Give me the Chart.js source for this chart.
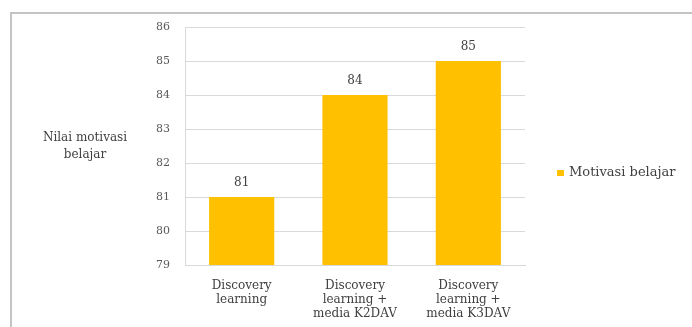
<!DOCTYPE html>
<html>
<head>
<meta charset="utf-8">
<script src="https://cdn.jsdelivr.net/npm/chart.js@4.4.0/dist/chart.umd.min.js"></script>
<style>
  html, body { margin: 0; padding: 0; background: #fff; overflow: hidden; width: 692px; height: 327px; }
  #frame {
    position: absolute; left: 10px; top: 12px; width: 682px; height: 315px;
    box-sizing: border-box;
    border-top: 2px solid #c4c4c4; border-left: 2px solid #c4c4c4;
  }
  #myChart { position: absolute; left: 0; top: 0; }
</style>
</head>
<body>
<div id="frame"></div>
<canvas id="myChart" width="692" height="327"></canvas>
<script>
// data
var categories = [
  ["Discovery", "learning"],
  ["Discovery", "learning +", "media K2DAV"],
  ["Discovery", "learning +", "media K3DAV"]
];
var seriesName = "Motivasi belajar";
var values = [81, 84, 85];
var axisTitle = ["Nilai motivasi", "belajar"];
var yMin = 79;
var yMax = 86;

var serif = "'DejaVu Serif', 'Liberation Serif', serif";
var barColor = "#FFC000";

// value labels above bars
var valueLabels = {
  id: "valueLabels",
  afterDatasetsDraw: function (chart) {
    var ctx = chart.ctx;
    var meta = chart.getDatasetMeta(0);
    ctx.save();
    ctx.font = "12px " + serif;
    ctx.fillStyle = "#404040";
    ctx.textAlign = "center";
    ctx.textBaseline = "bottom";
    meta.data.forEach(function (bar, i) {
      ctx.fillText(String(chart.data.datasets[0].data[i]), bar.x, bar.y - 8);
    });
    ctx.restore();
  }
};

// horizontal y-axis title + legend on the right
var sideText = {
  id: "sideText",
  afterDraw: function (chart) {
    var ctx = chart.ctx;
    var area = chart.chartArea;
    ctx.save();
    ctx.font = "12px " + serif;
    ctx.fillStyle = "#404040";
    ctx.textAlign = "center";
    ctx.textBaseline = "middle";
    var midY = (area.top + area.bottom) / 2;
    ctx.fillText(axisTitle[0], 85, midY - 8);
    ctx.fillText(axisTitle[1], 85, midY + 9);

    // legend
    var lx = area.right + 32;
    var ly = midY + 27;
    ctx.fillStyle = chart.data.datasets[0].backgroundColor;
    ctx.fillRect(lx, ly - 3, 7, 6);
    ctx.font = "13px " + serif;
    ctx.fillStyle = "#404040";
    ctx.textAlign = "left";
    ctx.fillText(chart.data.datasets[0].label, lx + 12, ly);
    ctx.restore();
  }
};

var config = {
  type: "bar",
  data: {
    labels: categories,
    datasets: [
      {
        label: seriesName,
        data: values,
        backgroundColor: barColor,
        borderWidth: 0,
        categoryPercentage: 1,
        barPercentage: 0.575
      }
    ]
  },
  options: {
    responsive: false,
    animation: false,
    layout: {
      padding: { left: 0, right: 167, top: 27, bottom: 7 }
    },
    plugins: {
      legend: { display: false },
      tooltip: { enabled: false }
    },
    scales: {
      x: {
        grid: { display: false },
        border: { display: true, color: "#d9d9d9", width: 1 },
        ticks: {
          color: "#404040",
          padding: 6,
          maxRotation: 0,
          autoSkip: false,
          font: { family: serif, size: 12, lineHeight: 1.15 }
        },
        afterFit: function (scale) {
          scale.height = 55;
        }
      },
      y: {
        min: yMin,
        max: yMax,
        grid: { color: "#d9d9d9", drawTicks: false },
        border: { display: true, color: "#d9d9d9", width: 1 },
        ticks: {
          stepSize: 1,
          color: "#595959",
          padding: 15,
          font: { family: serif, size: 11 }
        },
        afterFit: function (scale) {
          scale.width = 185;
        }
      }
    }
  },
  plugins: [valueLabels, sideText]
};

var ctx = document.getElementById("myChart").getContext("2d");
new Chart(ctx, config);
</script>
</body>
</html>
